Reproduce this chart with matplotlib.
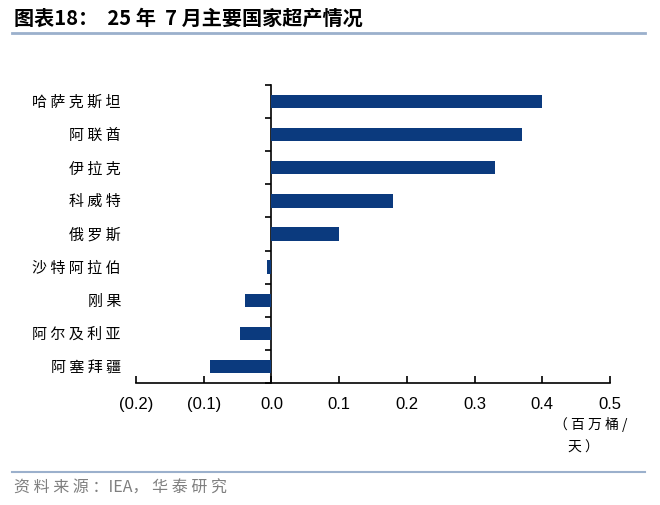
import matplotlib
matplotlib.use("Agg")
import matplotlib.pyplot as plt
import matplotlib.transforms as mtransforms
import numpy as np

plt.rcParams['font.family'] = ['Liberation Sans', 'Noto Sans CJK SC', 'DejaVu Sans']

countries = ["哈萨克斯坦", "阿联酋", "伊拉克", "科威特", "俄罗斯", "沙特阿拉伯", "刚果", "阿尔及利亚", "阿塞拜疆"]
values = [0.40, 0.37, 0.33, 0.18, 0.10, -0.007, -0.039, -0.047, -0.09]
xticks = [-0.2, -0.1, 0.0, 0.1, 0.2, 0.3, 0.4, 0.5]
xticklabels = ["(0.2)", "(0.1)", "0.0", "0.1", "0.2", "0.3", "0.4", "0.5"]

bar_color = "#0B3A7E"
cjk = ['Noto Sans CJK SC', 'DejaVu Sans']


def spaced(s):
    return " ".join(list(s))


fig = plt.figure(figsize=(6.6, 5.05), dpi=100)
ax = fig.add_axes([136/660, 1-383/505, 474/660, 298/505])

n = len(countries)
ypos = np.arange(n)[::-1]  # top first
ax.barh(ypos, values, height=0.4, color=bar_color, zorder=3)

ax.set_xlim(-0.2, 0.5)
ax.set_ylim(-0.5, n - 0.5)

ax.spines['top'].set_visible(False)
ax.spines['right'].set_visible(False)
ax.spines['left'].set_position(('data', 0))
ax.spines['left'].set_linewidth(1.2)
ax.spines['bottom'].set_linewidth(1.2)

ax.set_xticks(xticks)
ax.set_xticklabels(xticklabels, fontsize=12)
ax.tick_params(axis='x', direction='in', length=5, width=1.2, pad=10)

# y ticks at boundaries, labels at centers
ax.set_yticks(np.arange(-0.5, n, 1.0))
ax.set_yticklabels([])
ax.tick_params(axis='y', which='major', direction='out', length=4, width=1.2)
ax.set_yticks(ypos, minor=True)
ax.set_yticklabels([spaced(c) for c in countries], minor=True, fontsize=10.8, family=cjk)
ax.tick_params(axis='y', which='minor', length=0, pad=0)
tr = mtransforms.blended_transform_factory(fig.transFigure, ax.transData)
for lbl in ax.get_yticklabels(minor=True):
    lbl.set_transform(tr)
    lbl.set_x(121/660)
    lbl.set_horizontalalignment('right')

# unit label
fig.text(591/660, 1-425/505, spaced("（百万桶/"), fontsize=10, family=cjk, ha='center', va='center')
fig.text(583/660, 1-448/505, spaced("天）"), fontsize=10, family=cjk, ha='center', va='center')

# title
fig.text(14/660, 1-18/505, "图表18：  25 年  7 月主要国家超产情况", fontsize=14.5, fontweight='bold',
         family=cjk, ha='left', va='center')
fig.add_artist(plt.Line2D([12/660, 645/660], [1-33/505, 1-33/505], color="#9BB0CC", lw=2))
fig.add_artist(plt.Line2D([12/660, 645/660], [1-472/505, 1-472/505], color="#9BB0CC", lw=1.5))
fig.text(14/660, 1-488/505, "资 料 来 源 ：IEA， 华 泰 研 究", fontsize=11.5, color="#7F7F7F",
         family=cjk, ha='left', va='center')

fig.savefig("out.png", dpi=100)
